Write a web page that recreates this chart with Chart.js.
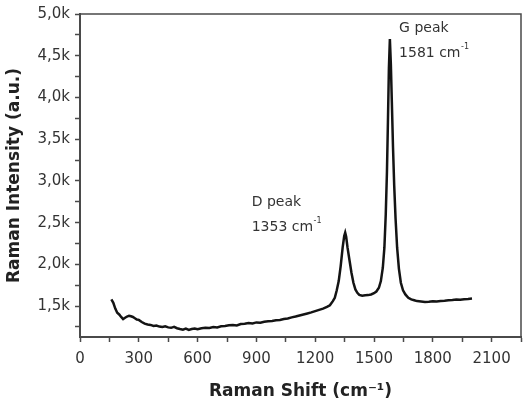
<!DOCTYPE html>
<html>
<head>
<meta charset="utf-8">
<script src="https://cdn.jsdelivr.net/npm/chart.js@4/dist/chart.umd.min.js"></script>
<style>
  html, body { margin: 0; padding: 0; background: #fff; }
  #wrap { width: 529px; height: 406px; }
</style>
</head>
<body>
<div id="wrap"><canvas id="ramanChart" width="529" height="406"></canvas></div>
<script>
"use strict";
// Raman shift (cm-1) and intensity
const shifts = [
  160, 170, 180, 190, 200, 210, 220, 230, 240, 250, 260, 270, 280, 290, 300,
  315, 330, 345, 360, 375, 390, 405, 420, 435, 450, 465, 480, 495, 510, 525,
  540, 555, 570, 585, 600, 620, 640, 660, 680, 700, 720, 740, 760, 780, 800,
  820, 840, 860, 880, 900, 920, 940, 960, 980, 1000, 1020, 1040, 1060, 1080, 1100,
  1120, 1140, 1160, 1180, 1200, 1220, 1240, 1260, 1275, 1290, 1300, 1310, 1320, 1330, 1340,
  1348, 1353, 1358, 1365, 1375, 1385, 1395, 1405, 1415, 1425, 1440, 1455, 1470, 1485, 1500,
  1512, 1525, 1535, 1545, 1553, 1560, 1566, 1571, 1576, 1581, 1586, 1591, 1597, 1603, 1610,
  1618, 1627, 1637, 1648, 1660, 1675, 1690, 1705, 1720, 1740, 1760, 1780, 1800, 1820, 1840,
  1860, 1880, 1900, 1920, 1940, 1960, 1980, 2000
];
const intensity = [
  1580, 1540, 1470, 1420, 1400, 1370, 1345, 1360, 1375, 1385, 1378, 1370, 1355, 1340, 1335,
  1310, 1290, 1280, 1275, 1262, 1268, 1255, 1250, 1258, 1245, 1240, 1252, 1235, 1225, 1218,
  1230, 1215, 1225, 1232, 1222, 1235, 1240, 1238, 1250, 1245, 1258, 1262, 1270, 1275, 1268,
  1285, 1290, 1298, 1293, 1305, 1300, 1312, 1318, 1322, 1330, 1335, 1345, 1352, 1365, 1375,
  1388, 1400, 1412, 1425, 1440, 1455, 1470, 1490, 1510, 1560, 1600, 1690, 1800, 1980, 2200,
  2340, 2380, 2330, 2200, 2050, 1900, 1780, 1700, 1660, 1635, 1625, 1630, 1632, 1640, 1655,
  1675, 1720, 1800, 1960, 2200, 2600, 3100, 3700, 4350, 4700, 4400, 3950, 3400, 2950, 2550,
  2200, 1950, 1780, 1690, 1640, 1600, 1580, 1570, 1560, 1555, 1550, 1552, 1558, 1555, 1562,
  1565, 1570, 1572, 1578, 1575, 1582, 1585, 1590
];
const xTickValues = [0, 300, 600, 900, 1200, 1500, 1800, 2100];
const yTickValues = [1500, 2000, 2500, 3000, 3500, 4000, 4500, 5000];
const peakNotes = [
  { name: 'G peak', shift: 1581, lx: 1628, ly: 4830 },
  { name: 'D peak', shift: 1353, lx: 876, ly: 2745 }
];

const axisColor = '#4a4a4a';
const textColor = '#333';
const fontFamily = '"DejaVu Sans", Verdana, sans-serif';

// frame around the plot + peak labels with superscript -1
const decorPlugin = {
  id: 'decor',
  afterDraw(chart) {
    const ctx = chart.ctx;
    const a = chart.chartArea;
    const xs = chart.scales.x;
    const ys = chart.scales.y;
    ctx.save();
    ctx.strokeStyle = axisColor;
    ctx.lineWidth = 1.5;
    ctx.beginPath();
    ctx.moveTo(a.left, a.top);
    ctx.lineTo(a.right, a.top);
    ctx.lineTo(a.right, a.bottom);
    ctx.stroke();

    ctx.fillStyle = textColor;
    ctx.textBaseline = 'middle';
    ctx.textAlign = 'left';
    peakNotes.forEach(p => {
      const px = xs.getPixelForValue(p.lx);
      const py = ys.getPixelForValue(p.ly);
      ctx.font = '14px ' + fontFamily;
      ctx.fillText(p.name, px, py);
      const main = p.shift + ' cm';
      ctx.fillText(main, px, py + 25);
      const w = ctx.measureText(main).width;
      ctx.font = '8px ' + fontFamily;
      ctx.fillText('-1', px + w + 0.5, py + 19);
    });
    ctx.restore();
  }
};

document.addEventListener('DOMContentLoaded', () => {
  const canvas = document.getElementById('ramanChart');
  const ctx = canvas.getContext('2d');
  const points = shifts.map((s, i) => ({ x: s, y: intensity[i] }));

  new Chart(ctx, {
    type: 'line',
    data: {
      datasets: [{
        data: points,
        borderColor: '#141414',
        borderWidth: 2.5,
        pointRadius: 0,
        tension: 0,
        fill: false
      }]
    },
    options: {
      responsive: false,
      animation: false,
      layout: { padding: { left: 0, top: 12, right: 6, bottom: 0 } },
      plugins: { legend: { display: false }, tooltip: { enabled: false } },
      scales: {
        x: {
          type: 'linear',
          min: 0,
          max: 2250,
          afterBuildTicks(scale) {
            const t = [];
            for (let v = 0; v <= 2250; v += 150) t.push({ value: v });
            scale.ticks = t;
          },
          afterFit(scale) { scale.height = 69; },
          ticks: {
            color: textColor,
            font: { size: 15, family: fontFamily },
            padding: 8,
            maxRotation: 0,
            autoSkip: false,
            callback: v => xTickValues.includes(v) ? String(v) : ''
          },
          grid: { drawOnChartArea: false, drawTicks: true, tickLength: 5, tickColor: axisColor, tickWidth: 1.5 },
          border: { color: axisColor, width: 2 },
          title: {
            display: true,
            text: 'Raman Shift (cm\u207B\u00B9)',
            color: '#222',
            font: { size: 17, weight: 'bold', family: fontFamily },
            padding: { top: 5 }
          }
        },
        y: {
          type: 'linear',
          min: 1130,
          max: 5000,
          afterBuildTicks(scale) {
            const t = [];
            for (let v = 1250; v <= 5000; v += 250) t.push({ value: v });
            scale.ticks = t;
          },
          afterFit(scale) { scale.width = 80; },
          ticks: {
            color: textColor,
            font: { size: 15, family: fontFamily },
            padding: 5,
            autoSkip: false,
            callback: v => yTickValues.includes(v) ? (v / 1000).toFixed(1).replace('.', ',') + 'k' : ''
          },
          grid: { drawOnChartArea: false, drawTicks: true, tickLength: 5, tickColor: axisColor, tickWidth: 1.5 },
          border: { color: axisColor, width: 2 },
          title: {
            display: true,
            text: 'Raman Intensity (a.u.)',
            color: '#222',
            font: { size: 17, weight: 'bold', family: fontFamily },
            padding: { bottom: 1 }
          }
        }
      }
    },
    plugins: [decorPlugin]
  });
});
</script>
</body>
</html>
